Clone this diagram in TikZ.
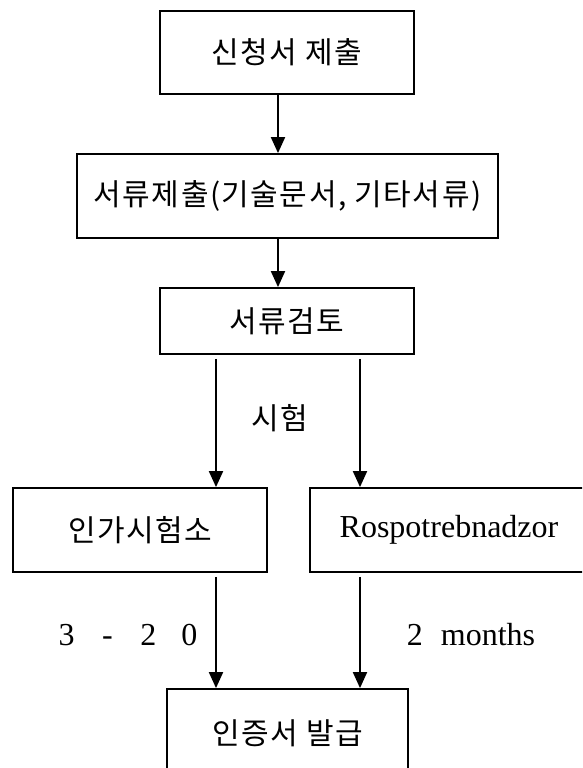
\documentclass[tikz,border=0pt]{standalone}
\usepackage{fontspec}
\setmainfont{Liberation Serif}
\newfontfamily\kor[LetterSpace=5]{Noto Sans CJK KR}
\usetikzlibrary{arrows.meta}
\tikzset{
  box/.style={draw=black, line width=1.8pt, rectangle, inner sep=0pt, align=center},
  kbox/.style={box, font=\kor\fontsize{30}{36}\selectfont},
  lbox/.style={box, font=\fontsize{32}{38}\selectfont},
  arr/.style={line width=1.9pt, -{Triangle[length=16pt,width=14pt]}},
  klabel/.style={font=\kor\fontsize{30}{36}\selectfont, inner sep=0pt},
  llabel/.style={font=\fontsize{32}{38}\selectfont, inner sep=0pt}
}
\begin{document}
\begin{tikzpicture}[x=1pt, y=-1pt]
\useasboundingbox (0,0) rectangle (582,768);
\clip (0,0) rectangle (582,768);
\node[kbox, minimum width=254pt, minimum height=83pt] (b1) at (287,52.5) {신청서 제출};
\node[kbox, minimum width=421pt, minimum height=84pt] (b2) at (287.5,196) {서류제출(기술문서, 기타서류)};
\node[kbox, minimum width=254pt, minimum height=66pt] (b3) at (287,321) {서류검토};
\node[kbox, minimum width=254pt, minimum height=84pt] (b4) at (140,530) {인가시험소};
\node[lbox, minimum width=278pt, minimum height=84pt] (b5) at (449,530) {Rospotrebnadzor};
\node[kbox, minimum width=241pt, minimum height=88pt] (b6) at (287.5,733) {인증서 발급};
\coordinate (cm) at (278,0);
\coordinate (cl) at (216,0);
\coordinate (cr) at (360,0);
\draw[arr] (b1.south -| cm) -- (b2.north -| cm);
\draw[arr] (b2.south -| cm) -- (b3.north -| cm);
\draw[arr] ([yshift=-4pt]b3.south -| cl) -- (b4.north -| cl);
\draw[arr] ([yshift=-4pt]b3.south -| cr) -- (b5.north -| cr);
\draw[arr] ([yshift=-4pt]b4.south -| cl) -- (b6.north -| cl);
\draw[arr] ([yshift=-4pt]b5.south -| cr) -- (b6.north -| cr);
\node[klabel] (t1) at (280,418) {시험};
\node[llabel] (t2) at (128,635) {\makebox[41pt]{3}\makebox[41pt]{-}\makebox[41pt]{2}\makebox[41pt]{0}};
\node[llabel] (t3) at (471,635) {2\hspace{18pt}months};
\end{tikzpicture}
\end{document}
